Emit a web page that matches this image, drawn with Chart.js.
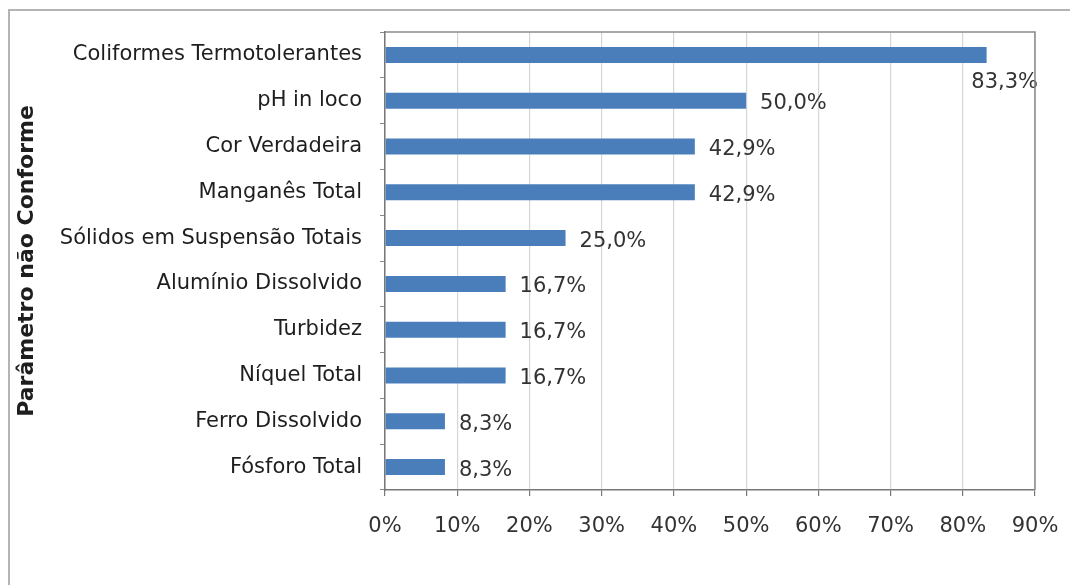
<!DOCTYPE html>
<html>
<head>
<meta charset="utf-8">
<script src="https://cdn.jsdelivr.net/npm/chart.js@4/dist/chart.umd.min.js"></script>
<style>
  html, body { margin: 0; padding: 0; background: #fff; }
  #wrap { width: 1070px; height: 585px; }
</style>
</head>
<body>
<div id="wrap"><canvas id="c" width="1070" height="585"></canvas></div>
<script>
// Parâmetros fora de conformidade (% das amostras)
const categories = [
  'Coliformes Termotolerantes',
  'pH in loco',
  'Cor Verdadeira',
  'Manganês Total',
  'Sólidos em Suspensão Totais',
  'Alumínio Dissolvido',
  'Turbidez',
  'Níquel Total',
  'Ferro Dissolvido',
  'Fósforo Total'
];
const percentNaoConforme = [83.3, 50.0, 42.9, 42.9, 25.0, 16.7, 16.7, 16.7, 8.3, 8.3];
const xTickValues = [0, 10, 20, 30, 40, 50, 60, 70, 80, 90];
const yAxisTitle = 'Parâmetro não Conforme';

const FONT = '"DejaVu Sans", "Liberation Sans", Arial, sans-serif';

// Outer frame of the figure (top and left edges)
const framePlugin = {
  id: 'frame',
  beforeDraw(chart) {
    const ctx = chart.ctx;
    ctx.save();
    ctx.strokeStyle = '#b4b4b4';
    ctx.lineWidth = 2;
    ctx.beginPath();
    ctx.moveTo(8, 10); ctx.lineTo(1070, 10);
    ctx.moveTo(9, 10); ctx.lineTo(9, 585);
    ctx.stroke();
    ctx.restore();
  }
};

// Top and right border of the plot area
const plotBorderPlugin = {
  id: 'plotBorder',
  afterDraw(chart) {
    const {ctx, chartArea: a} = chart;
    ctx.save();
    ctx.strokeStyle = '#8a8a8a';
    ctx.lineWidth = 1.5;
    ctx.beginPath();
    ctx.moveTo(a.left, a.top); ctx.lineTo(a.right, a.top); ctx.lineTo(a.right, a.bottom);
    ctx.stroke();
    ctx.restore();
  }
};

// Value labels at the end of each bar
const valueLabelPlugin = {
  id: 'valueLabels',
  afterDatasetsDraw(chart) {
    const {ctx, chartArea: a} = chart;
    const meta = chart.getDatasetMeta(0);
    const data = chart.data.datasets[0].data;
    ctx.save();
    ctx.font = '21px ' + FONT;
    ctx.fillStyle = '#333';
    ctx.textBaseline = 'middle';
    meta.data.forEach((bar, i) => {
      const txt = data[i].toFixed(1).replace('.', ',') + '%';
      const w = ctx.measureText(txt).width;
      let x = bar.x + 14;
      if (x + w > a.right) {
        ctx.textAlign = 'right';
        ctx.fillText(txt, a.right + 3, bar.y + 28);
      } else {
        ctx.textAlign = 'left';
        ctx.fillText(txt, x, bar.y + 3);
      }
    });
    ctx.restore();
  }
};

new Chart(document.getElementById('c'), {
  type: 'bar',
  data: {
    labels: categories,
    datasets: [{
      data: percentNaoConforme,
      backgroundColor: '#4a7ebb',
      borderWidth: 0,
      barPercentage: 0.35,
      categoryPercentage: 1.0
    }]
  },
  options: {
    indexAxis: 'y',
    responsive: false,
    animation: false,
    devicePixelRatio: 1,
    layout: { padding: { top: 32, right: 35, left: 0, bottom: 0 } },
    plugins: {
      legend: { display: false },
      tooltip: { enabled: false }
    },
    scales: {
      x: {
        min: 0,
        max: 90,
        afterBuildTicks(scale) {
          scale.ticks = xTickValues.map(v => ({ value: v }));
        },
        afterFit(scale) {
          scale.height = 95;
          scale.paddingLeft = 0;
          scale.paddingRight = 0;
        },
        ticks: {
          callback: v => v + '%',
          font: { family: FONT, size: 21 },
          color: '#333',
          padding: 18,
          maxRotation: 0
        },
        grid: {
          color: '#d6d6d6',
          lineWidth: 1.2,
          tickColor: '#777',
          tickLength: 6
        },
        border: { color: '#777', width: 1.5 }
      },
      y: {
        afterFit(scale) {
          scale.width = 385;
          scale.paddingTop = 0;
          scale.paddingBottom = 0;
        },
        ticks: {
          font: { family: FONT, size: 21 },
          color: '#1e1e1e',
          padding: 18
        },
        grid: {
          drawOnChartArea: false,
          offset: true,
          tickColor: '#888',
          tickLength: 5
        },
        border: { color: '#777', width: 1.5 },
        title: {
          display: true,
          text: yAxisTitle,
          font: { family: FONT, size: 22, weight: 'bold' },
          color: '#1e1e1e',
          padding: { top: 14, bottom: 0 }
        }
      }
    }
  },
  plugins: [framePlugin, plotBorderPlugin, valueLabelPlugin]
});
</script>
</body>
</html>
